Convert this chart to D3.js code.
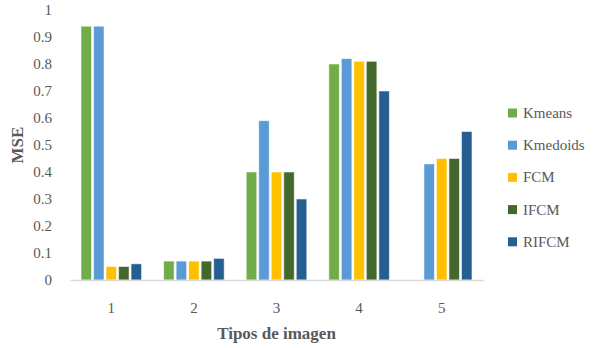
<!DOCTYPE html>
<html>
<head>
<meta charset="utf-8">
<script src="https://cdn.jsdelivr.net/npm/d3@7"></script>
<style>
  html, body { margin: 0; padding: 0; background: #fff; }
  svg { display: block; }
  text { font-family: "Liberation Serif", "DejaVu Serif", serif; fill: #595959; }
</style>
</head>
<body>
<svg id="chart" width="602" height="348"></svg>
<script>
// Image types on the x axis
const categories = ["1", "2", "3", "4", "5"];
// Clustering methods (one bar each per image type)
const seriesNames = ["Kmeans", "Kmedoids", "FCM", "IFCM", "RIFCM"];
const kmeans   = [0.94, 0.07, 0.40, 0.80, 0];
const kmedoids = [0.94, 0.07, 0.59, 0.82, 0.43];
const fcm      = [0.05, 0.07, 0.40, 0.81, 0.45];
const ifcm     = [0.05, 0.07, 0.40, 0.81, 0.45];
const rifcm    = [0.06, 0.08, 0.30, 0.70, 0.55];
const yTicks = [0, 0.1, 0.2, 0.3, 0.4, 0.5, 0.6, 0.7, 0.8, 0.9, 1];
const colors = ["#70AD47", "#5B9BD5", "#FFC000", "#43682B", "#255E91"];

const seriesValues = [kmeans, kmedoids, fcm, ifcm, rifcm];
const rows = categories.map((c, i) => ({
  cat: c,
  vals: seriesNames.map((s, j) => ({ series: s, value: seriesValues[j][i], idx: j }))
}));

const svg = d3.select("#chart");
const plot = { left: 70, right: 483, top: 10, bottom: 280 };

const x = d3.scaleBand().domain(categories).range([plot.left, plot.right]).paddingInner(0).paddingOuter(0);
const xInner = d3.scaleBand().domain(seriesNames).range([0, x.bandwidth()]).paddingInner(0.16).paddingOuter(0.88);
const y = d3.scaleLinear().domain([0, 1]).range([plot.bottom, plot.top]);

// Y tick labels (no axis line, no gridlines)
const yAxis = d3.axisLeft(y).tickValues(yTicks).tickSize(0).tickPadding(0)
  .tickFormat(d => d === 0 ? "0" : d === 1 ? "1" : String(+d.toFixed(1)));
const gy = svg.append("g").attr("transform", `translate(${plot.left - 18},0)`).call(yAxis)
  .attr("font-family", null).attr("font-size", null);
gy.select(".domain").remove();
gy.selectAll("text").attr("font-size", 15).style("fill", "#595959");

// Bars
const groups = svg.append("g").selectAll("g").data(rows).join("g")
  .attr("transform", d => `translate(${x(d.cat)},0)`);
groups.selectAll("rect").data(d => d.vals.filter(v => v.value > 0)).join("rect")
  .attr("x", d => xInner(d.series))
  .attr("width", xInner.bandwidth())
  .attr("y", d => y(d.value))
  .attr("height", d => y(0) - y(d.value))
  .attr("fill", d => colors[d.idx])
  .attr("stroke", "#ffffff")
  .attr("stroke-opacity", 0.55)
  .attr("stroke-width", 1);

// X axis baseline and labels
const xAxis = d3.axisBottom(x).tickSize(0).tickPadding(22);
const gx = svg.append("g").attr("transform", `translate(0,${plot.bottom})`).call(xAxis)
  .attr("font-family", null).attr("font-size", null);
gx.select(".domain").attr("stroke", "#d9d9d9").attr("stroke-width", 1.3);
gx.selectAll("text").attr("font-size", 15).style("fill", "#595959");

// Axis titles
svg.append("text")
  .attr("x", (plot.left + plot.right) / 2).attr("y", 339)
  .attr("text-anchor", "middle").attr("font-size", 17).attr("font-weight", "bold")
  .text("Tipos de imagen");
svg.append("text")
  .attr("transform", "translate(23,145) rotate(-90)")
  .attr("text-anchor", "middle").attr("font-size", 17).attr("font-weight", "bold")
  .text("MSE");

// Legend
const legend = svg.append("g").attr("transform", "translate(508,113)");
const item = legend.selectAll("g").data(seriesNames).join("g")
  .attr("transform", (d, i) => `translate(0,${i * 32.2})`);
item.append("rect").attr("x", 0).attr("y", -4.5).attr("width", 9).attr("height", 9)
  .attr("fill", (d, i) => colors[i]);
item.append("text").attr("x", 15).attr("y", 5).attr("font-size", 15).text(d => d);
</script>
</body>
</html>
